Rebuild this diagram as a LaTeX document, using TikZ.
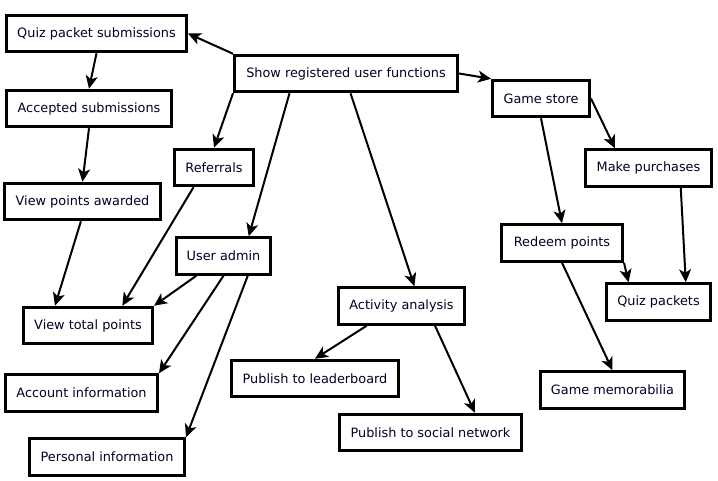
\documentclass[tikz,border=0pt]{standalone}
\usepackage{fontspec}
\setmainfont{DejaVu Sans}
\usetikzlibrary{arrows.meta,calc}
\begin{document}
\begin{tikzpicture}[x=1pt,y=-1pt,
  box/.style={draw=black,line width=3pt,fill=white,inner sep=0pt,
    minimum height=36.5pt,font=\fontsize{12.85}{15}\selectfont,text=black!85!blue},
  arr/.style={line width=2pt,-{Stealth[length=13pt,width=12pt,inset=3.5pt]}}]
\useasboundingbox (0,0) rectangle (718,481);
\node[box,minimum width=180pt] (qps) at (96.5,33.5) {Quiz packet submissions};
\node[box,minimum width=165pt] (acc) at (89,108.5) {Accepted submissions};
\node[box,minimum width=156pt] (vpa) at (82.5,201.5) {View points awarded};
\node[box,minimum width=223pt] (show) at (346,73.5) {Show registered user functions};
\node[box,minimum width=79pt] (ref) at (214,167.5) {Referrals};
\node[box,minimum width=94pt] (uadm) at (223.5,256) {User admin};
\node[box,minimum width=129pt] (vtp) at (88,325.5) {View total points};
\node[box,minimum width=152pt] (acct) at (81.5,393) {Account information};
\node[box,minimum width=155pt] (pers) at (107,457) {Personal information};
\node[box,minimum width=167pt] (pl) at (315,378.5) {Publish to leaderboard};
\node[box,minimum width=126pt] (aa) at (401.5,306) {Activity analysis};
\node[box,minimum width=182pt] (psn) at (430.5,432.5) {Publish to social network};
\node[box,minimum width=97pt] (gs) at (541,98.5) {Game store};
\node[box,minimum width=126pt] (mp) at (648.5,168) {Make purchases};
\node[box,minimum width=121pt] (rp) at (562,243) {Redeem points};
\node[box,minimum width=104pt] (qp) at (658.5,302) {Quiz packets};
\node[box,minimum width=144pt] (gm) at (612.5,390) {Game memorabilia};

\draw[arr] (show.north west) -- (qps.east);
\draw[arr] (qps.south) -- (acc.north);
\draw[arr] (acc.south) -- (vpa.north);
\draw[arr] ($(vpa.south west)!0.49!(vpa.south east)$) -- ($(vtp.north west)!0.25!(vtp.north east)$);
\draw[arr] ($(ref.south west)!0.25!(ref.south east)$) -- ($(vtp.north west)!0.76!(vtp.north east)$);
\draw[arr] ($(uadm.south west)!0.22!(uadm.south east)$) -- (vtp.north east);
\draw[arr] (uadm.south) -- (acct.north east);
\draw[arr] ($(uadm.south west)!0.75!(uadm.south east)$) -- (pers.north east);
\draw[arr] (show.south west) -- (ref.north);
\draw[arr] ($(show.south west)!0.25!(show.south east)$) -- ($(uadm.north west)!0.76!(uadm.north east)$);
\draw[arr] ($(show.south west)!0.52!(show.south east)$) -- ($(aa.north west)!0.6!(aa.north east)$);
\draw[arr] (show.east) -- (gs.north west);
\draw[arr] (gs.south) -- (rp.north);
\draw[arr] (gs.east) -- ($(mp.north west)!0.24!(mp.north east)$);
\draw[arr] ($(mp.south west)!0.75!(mp.south east)$) -- ($(qp.north west)!0.755!(qp.north east)$);
\draw[arr] (rp.south east) -- ($(qp.north west)!0.22!(qp.north east)$);
\draw[arr] (rp.south) -- (gm.north);
\draw[arr] ($(aa.south west)!0.23!(aa.south east)$) -- (pl.north);
\draw[arr] ($(aa.south west)!0.76!(aa.south east)$) -- ($(psn.north west)!0.74!(psn.north east)$);
\end{tikzpicture}
\end{document}
